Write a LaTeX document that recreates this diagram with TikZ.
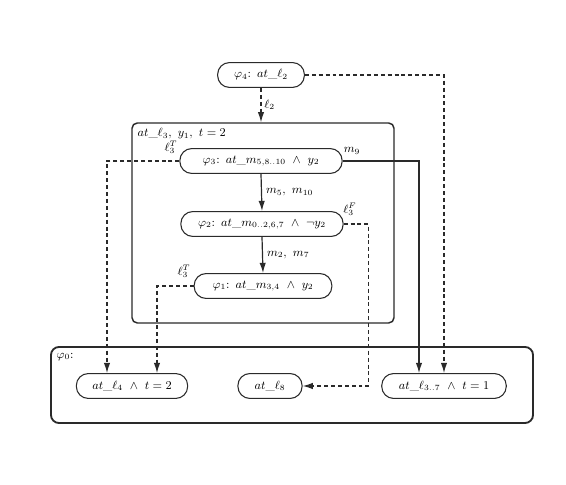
\documentclass[tikz,border=0pt]{standalone}
\usetikzlibrary{arrows.meta,positioning,calc,fit}
\definecolor{dgink}{HTML}{2A2A2A}

\begin{document}
\begin{tikzpicture}[
  x=0.0265cm,y=-0.0265cm,
  state/.style={draw=dgink,line width=0.8pt,rounded corners=9pt,minimum height=0.66cm,inner sep=2pt,font=\small},
  region/.style={draw=dgink,line width=1.1pt,rounded corners=4pt,inner sep=0pt},
  trans/.style={-{Latex[length=2.7mm,width=1.7mm]},draw=dgink,line width=0.9pt},
  exit/.style={trans,dash pattern=on 3pt off 2.2pt},
  lab/.style={font=\small,inner sep=1pt},
]
\useasboundingbox (0,0) rectangle (566,485);

% Outer regions
\coordinate (rtl) at (132,123);
\coordinate (rbr) at (394,323);
\node[region,fit=(rtl)(rbr)] (inner) {};
\coordinate (gtl) at (51,347);
\coordinate (gbr) at (533,423);
\node[region,line width=1.4pt,rounded corners=6pt,fit=(gtl)(gbr)] (goal) {};
\node[lab,anchor=west] at (136,134) {$at\_\ell_3,\ y_1,\ t=2$};
\node[lab,anchor=west] at (55,357) {$\varphi_0$:};

% Assertions
\node[state,minimum width=2.3cm] (phiFour) at (261,75) {$\varphi_4\colon\ at\_\ell_2$};
\node[state,minimum width=4.3cm] (phiThree) at (261,161) {$\varphi_3\colon\ at\_m_{5,8..10}\ \wedge\ y_2$};
\node[state,minimum width=4.3cm] (phiTwo) at (262,224) {$\varphi_2\colon\ at\_m_{0..2,6,7}\ \wedge\ \neg y_2$};
\node[state,minimum width=3.65cm] (phiOne) at (263,286) {$\varphi_1\colon\ at\_m_{3,4}\ \wedge\ y_2$};

\node[state,minimum width=2.95cm] (lFour) at (132,386) {$at\_\ell_4\ \wedge\ t=2$};
\node[state,minimum width=1.7cm] (lEight) at (270,386) {$at\_\ell_8$};
\node[state,minimum width=3.3cm] (lSeven) at (444,386) {$at\_\ell_{3..7}\ \wedge\ t=1$};

% Transitions inside the region
\draw[exit] (phiFour.south) -- node[lab,right=1pt] {$\ell_2$} (phiFour.south |- inner.north);
\draw[trans] (phiThree.south) -- node[lab,right=2pt] {$m_5,\ m_{10}$} (phiTwo.north);
\draw[trans] (phiTwo.south) -- node[lab,right=2pt] {$m_2,\ m_7$} (phiOne.north);

% Exits to the goal
\draw[exit] (phiFour.east) -| (lSeven.north);
\draw[trans] (phiThree.east) -| ($(lSeven.north)+(-25,0)$);
\draw[exit] (phiThree.west) -| ($(lFour.north)+(-25,0)$);
\draw[exit] (phiOne.west) -| ($(lFour.north)+(25,0)$);
\draw[exit] (phiTwo.east) -| ($(lEight.east)+(66,0)$) -- (lEight.east);

\node[lab] at (352,151) {$m_9$};
\node[lab] at (171,147) {$\ell_3^T$};
\node[lab] at (350,209) {$\ell_3^F$};
\node[lab] at (184,271) {$\ell_3^T$};
\end{tikzpicture}
\end{document}
